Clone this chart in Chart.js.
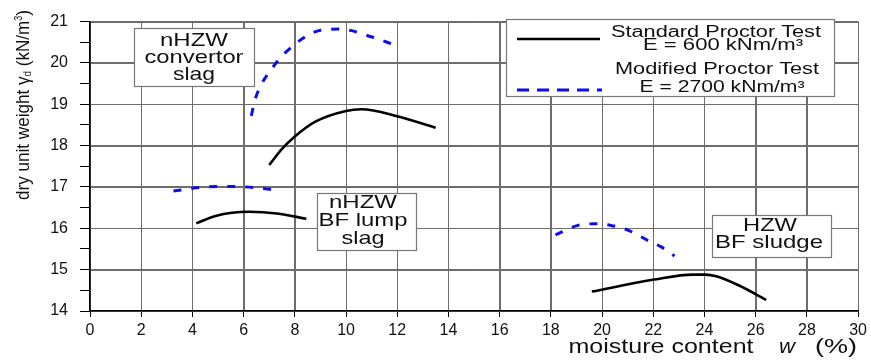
<!DOCTYPE html>
<html>
<head>
<meta charset="utf-8">
<script src="https://cdn.jsdelivr.net/npm/chart.js@4"></script>
<style>
  html, body { margin: 0; padding: 0; background: #fff; }
  canvas { display: block; }
</style>
</head>
<body>
<canvas id="proctorChart" width="871" height="360"></canvas>
<script>
// moisture content w (%) and dry unit weight (kN/m3)
const convStdW     = [7.0, 7.5, 8.0, 8.8, 10.0, 10.6, 12.0, 13.5]
const convStdGamma = [17.53, 17.92, 18.22, 18.58, 18.84, 18.88, 18.71, 18.43]
const convModW     = [6.3, 6.45, 7.1, 8.0, 9.0, 9.75, 11.05, 12.0]
const convModGamma = [18.72, 19.12, 19.86, 20.45, 20.79, 20.82, 20.62, 20.41]

const lumpStdW     = [4.15, 4.9, 6.2, 7.3, 8.45]
const lumpStdGamma = [16.12, 16.3, 16.4, 16.36, 16.23]
const lumpModW     = [3.26, 4.15, 4.95, 5.7, 6.5, 7.15]
const lumpModGamma = [16.9, 16.98, 17.01, 17.01, 16.98, 16.93]

const sludgeStdW     = [19.6, 22.05, 23.54, 24.03, 24.46, 25.37, 26.41]
const sludgeStdGamma = [14.47, 14.76, 14.88, 14.88, 14.84, 14.61, 14.27]
const sludgeModW     = [18.18, 18.99, 19.7, 20.35, 21.07, 21.78, 22.31, 22.83]
const sludgeModGamma = [15.84, 16.06, 16.11, 16.07, 15.94, 15.71, 15.55, 15.33]

const legendLabels = [["Standard Proctor Test", "E = 600 kNm/m³"], ["Modified Proctor Test", "E = 2700 kNm/m³"]]
const boxLabels = [["nHZW", "convertor", "slag"], ["nHZW", "BF lump", "slag"], ["HZW", "BF sludge"]]

const FONT = "'Liberation Sans', Arial, sans-serif"
const BLUE = "#0c0cf0"
const GRID = "#6e6e6e"

function pts(ws, gs) {
  return ws.map((w, i) => ({ x: w, y: gs[i] }))
}

function stdSet(ws, gs) {
  return { data: pts(ws, gs), borderColor: "#000", borderWidth: 2.6, pointRadius: 0,
           cubicInterpolationMode: "monotone", fill: false }
}
function modSet(ws, gs) {
  return { data: pts(ws, gs), borderColor: BLUE, borderWidth: 3, borderDash: [8, 10],
           pointRadius: 0, cubicInterpolationMode: "monotone", fill: false }
}

// text squeezed/stretched to a measured width, centred on cx,cy
function fitText(ctx, str, cx, cy, size, width, style) {
  ctx.save()
  ctx.font = (style || "") + " " + size + "px " + FONT
  let m = ctx.measureText(str).width
  ctx.translate(cx, cy)
  ctx.scale(width / m, 1)
  ctx.textAlign = "center"
  ctx.textBaseline = "middle"
  ctx.fillStyle = "#111"
  ctx.fillText(str, 0, 0)
  ctx.restore()
}

function box(ctx, x0, y0, x1, y1) {
  ctx.save()
  ctx.fillStyle = "#fff"
  ctx.fillRect(x0, y0, x1 - x0, y1 - y0)
  ctx.strokeStyle = "#777"
  ctx.lineWidth = 1.2
  ctx.strokeRect(x0 + 0.5, y0 + 0.5, x1 - x0, y1 - y0)
  ctx.restore()
}

// grid lines, placed by the scales' own ticks
function drawGridLines(chart) {
  const ctx = chart.ctx
  const a = chart.chartArea
  const xs = chart.scales.x, ys = chart.scales.y
  ctx.save()
  ctx.setLineDash([])
  ctx.strokeStyle = GRID
  ctx.lineWidth = 1
  ctx.beginPath()
  xs.ticks.forEach(t => {
    const px = Math.round(xs.getPixelForValue(t.value)) + 0.5
    ctx.moveTo(px, a.top); ctx.lineTo(px, a.bottom)
  })
  ys.ticks.forEach(t => {
    if (!Number.isInteger(t.value)) return
    const py = Math.round(ys.getPixelForValue(t.value)) + 0.5
    ctx.moveTo(a.left, py); ctx.lineTo(a.right, py)
  })
  ctx.stroke()
  ctx.restore()
}

const gridLines = {
  id: "gridLines",
  beforeDraw(chart) { drawGridLines(chart) }
}

const decorations = {
  id: "decorations",
  afterDraw(chart) {
    const ctx = chart.ctx

    // annotation boxes
    box(ctx, 134, 28, 254, 86)
    fitText(ctx, boxLabels[0][0], 194, 41, 19, 68)
    fitText(ctx, boxLabels[0][1], 194, 58, 19, 99)
    fitText(ctx, boxLabels[0][2], 194, 75, 19, 42)

    box(ctx, 317, 193, 416, 250)
    fitText(ctx, boxLabels[1][0], 363, 203, 19, 68)
    fitText(ctx, boxLabels[1][1], 363, 221, 19, 89)
    fitText(ctx, boxLabels[1][2], 363, 239, 19, 43)

    box(ctx, 712, 215, 831, 257)
    fitText(ctx, boxLabels[2][0], 770, 226, 19, 54)
    fitText(ctx, boxLabels[2][1], 769, 243, 19, 108)

    // legend
    box(ctx, 506, 19, 834, 96)
    ctx.save()
    ctx.strokeStyle = "#000"
    ctx.lineWidth = 2.6
    ctx.beginPath(); ctx.moveTo(517, 39); ctx.lineTo(600, 39); ctx.stroke()
    ctx.strokeStyle = BLUE
    ctx.lineWidth = 3
    ctx.setLineDash([12, 8])
    ctx.beginPath(); ctx.moveTo(517, 90); ctx.lineTo(602, 90); ctx.stroke()
    ctx.restore()
    fitText(ctx, legendLabels[0][0], 716, 33, 16, 210)
    fitText(ctx, legendLabels[0][1], 723, 46, 16, 160)
    fitText(ctx, legendLabels[1][0], 717, 70, 16, 204)
    fitText(ctx, legendLabels[1][1], 722, 88, 16, 165)

    // x title
    fitText(ctx, "moisture content", 661, 347, 20, 185)
    fitText(ctx, "w", 787, 347, 20, 16, "italic")
    fitText(ctx, "(%)", 836, 347, 20, 42)

    // y title with subscript d and superscript 3
    ctx.save()
    ctx.translate(24, 105)
    ctx.rotate(-Math.PI / 2)
    const parts = [
      ["dry unit weight γ", 19, 0],
      ["d", 11, 4],
      [" (kN/m", 19, 0],
      ["3", 10, -5],
      [")", 19, 0]
    ]
    let total = 0
    parts.forEach(p => { ctx.font = p[1] + "px " + FONT; total += ctx.measureText(p[0]).width })
    ctx.scale(190 / total, 1)
    ctx.fillStyle = "#111"
    ctx.textBaseline = "middle"
    ctx.textAlign = "left"
    let x = -total / 2
    parts.forEach(p => {
      ctx.font = p[1] + "px " + FONT
      ctx.fillText(p[0], x, p[2])
      x += ctx.measureText(p[0]).width
    })
    ctx.restore()
  }
}

new Chart(document.getElementById("proctorChart"), {
  type: "line",
  data: {
    datasets: [
      stdSet(convStdW, convStdGamma),
      modSet(convModW, convModGamma),
      stdSet(lumpStdW, lumpStdGamma),
      modSet(lumpModW, lumpModGamma),
      stdSet(sludgeStdW, sludgeStdGamma),
      modSet(sludgeModW, sludgeModGamma)
    ]
  },
  options: {
    responsive: false,
    animation: false,
    layout: { padding: { top: 14, right: 12, left: 0, bottom: 0 } },
    plugins: { legend: { display: false }, tooltip: { enabled: false } },
    scales: {
      x: {
        type: "linear",
        min: 0,
        max: 30,
        ticks: { stepSize: 2, color: "#111", font: { family: FONT, size: 16 }, padding: 4 },
        grid: { display: true, drawOnChartArea: true, color: GRID, lineWidth: 1, tickLength: 6, tickColor: "#000" },
        border: { color: "#000", width: 1.6 },
        afterFit: s => { s.height = 49 }
      },
      y: {
        type: "linear",
        min: 14,
        max: 21,
        ticks: {
          stepSize: 0.5,
          autoSkip: false,
          color: "#111",
          font: { family: FONT, size: 16 },
          padding: 12,
          callback: v => Number.isInteger(v) ? v : ""
        },
        grid: {
          display: true,
          drawOnChartArea: true,
          color: c => (c.tick && !Number.isInteger(c.tick.value)) ? "rgba(0,0,0,0)" : GRID,
          lineWidth: 1,
          tickLength: 10,
          tickColor: "#000"
        },
        border: { color: "#000", width: 1.6 },
        afterFit: s => { s.width = 90 }
      }
    }
  },
  plugins: [gridLines, decorations]
})
</script>
</body>
</html>
